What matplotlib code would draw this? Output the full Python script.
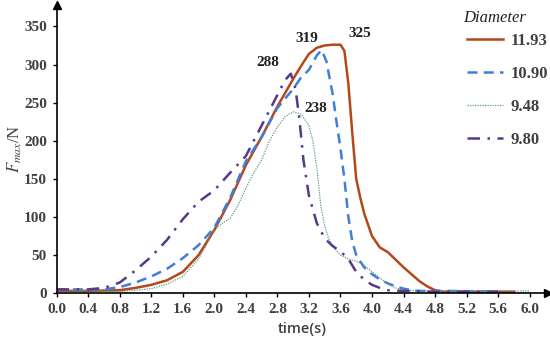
import matplotlib
matplotlib.use("Agg")
import matplotlib.pyplot as plt

plt.rcParams["mathtext.fontset"] = "stix"

# Fmax vs time for four diameters
t_1193 = [0, 0.4, 0.8, 1.0, 1.2, 1.4, 1.6, 1.8, 2.0, 2.2, 2.4, 2.6, 2.8, 3.0, 3.1, 3.2, 3.3,
          3.4, 3.5, 3.6, 3.65, 3.7, 3.75, 3.8, 3.85, 3.9, 4.0, 4.1, 4.2, 4.3, 4.4, 4.5, 4.6,
          4.7, 4.8, 4.9, 5.0, 5.4, 5.8]
f_1193 = [3, 3, 4, 7, 11, 17, 28, 50, 83, 122, 168, 205, 245, 281, 298, 314, 322,
          325, 326, 326, 318, 275, 210, 150, 126, 105, 75, 60, 54, 44, 34, 25, 16,
          9, 4, 2, 2, 2, 2]

t_1090 = [0, 0.4, 0.6, 0.8, 1.0, 1.2, 1.4, 1.6, 1.8, 2.0, 2.2, 2.4, 2.6, 2.8, 3.0, 3.1, 3.2,
          3.3, 3.36, 3.42, 3.5, 3.55, 3.6, 3.65, 3.7, 3.75, 3.8, 3.9, 4.0, 4.1, 4.2, 4.3,
          4.4, 4.5, 4.6, 5.0, 5.6]
f_1090 = [5, 5, 5, 8, 14, 22, 32, 46, 63, 86, 125, 173, 205, 243, 268, 283, 293,
          312, 319, 305, 262, 225, 190, 150, 100, 68, 50, 34, 25, 18, 13, 9,
          6, 4, 3, 3, 2]

t_948 = [0, 0.4, 0.8, 1.2, 1.4, 1.6, 1.8, 2.0, 2.1, 2.2, 2.3, 2.4, 2.5, 2.6, 2.7, 2.8, 2.9,
         3.0, 3.1, 3.2, 3.25, 3.3, 3.35, 3.4, 3.45, 3.5, 3.6, 3.7, 3.8, 3.9, 4.0, 4.1,
         4.2, 4.3, 4.4, 4.6, 5.0, 6.0]
f_948 = [3, 3, 2, 6, 12, 22, 45, 82, 92, 98, 115, 138, 158, 175, 200, 218, 232,
         238, 235, 220, 200, 165, 115, 88, 72, 62, 50, 45, 42, 37, 28, 20,
         12, 7, 4, 3, 3, 3]

t_980 = [0, 0.4, 0.6, 0.8, 1.0, 1.2, 1.4, 1.6, 1.8, 2.0, 2.2, 2.4, 2.6, 2.8, 2.9, 2.97,
         3.03, 3.08, 3.13, 3.2, 3.3, 3.4, 3.5, 3.6, 3.7, 3.8, 3.9, 4.0, 4.1, 4.2, 4.4,
         4.8, 5.6]
f_980 = [5, 5, 7, 14, 30, 48, 70, 97, 120, 135, 158, 180, 220, 260, 280, 288,
         268, 228, 175, 128, 92, 72, 62, 55, 45, 28, 18, 11, 7, 4, 3,
         2, 2]

labels = ["11.93", "10.90", "9.48", "9.80"]
peak_text = ["288", "319", "325", "238"]
peak_pos = [(2.68, 303), (3.17, 334), (3.85, 341), (3.29, 242)]

x_ticks = [round(0.4 * i, 1) for i in range(16)]
y_ticks = [0, 50, 100, 150, 200, 250, 300, 350]

serif = "Liberation Serif"
grey = "#404040"

fig = plt.figure(figsize=(5.5, 3.39), dpi=100)
ax = fig.add_axes([0.103, 0.135, 0.893, 0.850])

ax.plot(t_1193, f_1193, color="#b5471c", lw=1.8, label=labels[0])
ax.plot(t_1090, f_1090, color="#3f7fd6", lw=1.8, ls=(0, (4, 2.5)), label=labels[1])
ax.plot(t_948, f_948, color="#5b9e86", lw=0.9, ls=(0, (1, 1)), label=labels[2])
ax.plot(t_980, f_980, color="#57388c", lw=1.8, ls=(0, (5, 3, 1, 3)), label=labels[3])

for txt, (x, y) in zip(peak_text, peak_pos):
    ax.text(x, y, txt, ha="center", va="center", fontsize=11, fontweight="bold",
            family=serif, color="#222222")

ax.set_xlim(0, 6.23)
ax.set_ylim(0, 378)
ax.set_xticks(x_ticks)
ax.set_xticklabels([f"{v:.1f}" for v in x_ticks])
ax.set_yticks(y_ticks)
for lab in ax.get_xticklabels() + ax.get_yticklabels():
    lab.set_family(serif)
    lab.set_fontweight("bold")
    lab.set_fontsize(11)
    lab.set_color(grey)
ax.tick_params(direction="out", length=3, width=1, color="black", pad=4)

for s in ["top", "right"]:
    ax.spines[s].set_visible(False)
for s in ["left", "bottom"]:
    ax.spines[s].set_linewidth(1.2)

ax.plot(1, 0, ">k", ms=6, transform=ax.get_yaxis_transform(), clip_on=False)
ax.plot(0, 1, "^k", ms=6, transform=ax.get_xaxis_transform(), clip_on=False)

ax.set_xlabel("time(s)", family="Open Sans", fontweight="semibold", fontsize=10.5,
              color=grey, labelpad=4)
ax.set_ylabel(r"$F_{max}$/N", family=serif, fontsize=12, color=grey, labelpad=0)

leg = ax.legend(loc="upper left", bbox_to_anchor=(0.805, 0.956), frameon=False,
                handlelength=2.15, labelspacing=1.03, handletextpad=0.45,
                prop={"family": serif, "weight": "bold", "size": 12})
for txt in leg.get_texts():
    txt.set_color(grey)
fig.text(463 / 550, 1 - 18 / 339, "Diameter", ha="left", va="center",
         family=serif, style="italic", fontsize=12, color="#222222")

fig.savefig("out.png", dpi=100)
